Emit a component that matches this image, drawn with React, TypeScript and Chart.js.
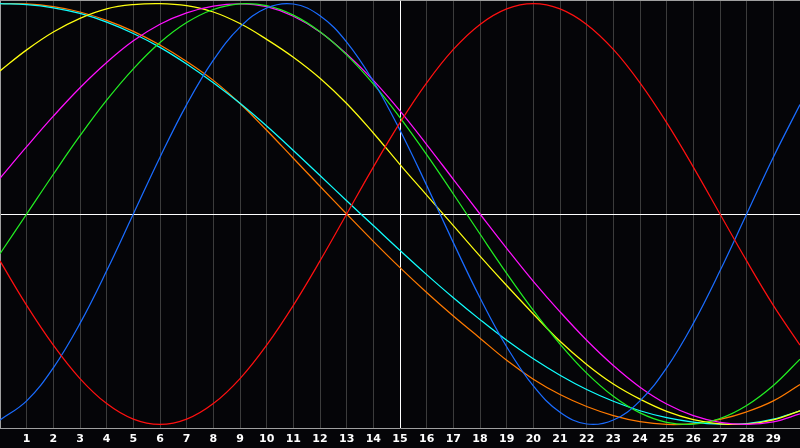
import React, { useEffect, useRef } from "react";
import { Chart, registerables } from "chart.js";

Chart.register(...registerables);

const days = [0, 1, 2, 3, 4, 5, 6, 7, 8, 9, 10, 11, 12, 13, 14, 15, 16, 17, 18, 19, 20, 21, 22, 23, 24, 25, 26, 27, 28, 29, 30];

const redSeries = [-22.3, -43.4, -62.3, -78.2, -90.1, -97.5, -100, -97.5, -90.1, -78.2, -62.3, -43.4, -22.3, 0, 22.3, 43.4, 62.3, 78.2, 90.1, 97.5, 100, 97.5, 90.1, 78.2, 62.3, 43.4, 22.3, 0, -22.3, -43.4, -62.3];
const blueSeries = [-97.9, -88.8, -73.1, -52.0, -27.0, 0, 27.0, 52.0, 73.1, 88.8, 97.9, 99.8, 94.2, 81.7, 63.1, 39.8, 13.6, -13.6, -39.8, -63.1, -81.7, -94.2, -99.8, -97.9, -88.8, -73.1, -52.0, -27.0, 0, 27.0, 52.0];
const greenSeries = [-18.9, 0, 18.9, 37.2, 54.1, 69.0, 81.5, 91.0, 97.2, 99.9, 99.0, 94.5, 86.6, 75.6, 61.8, 45.8, 28.2, 9.5, -9.5, -28.2, -45.8, -61.8, -75.6, -86.6, -94.5, -99.0, -99.9, -97.2, -91.0, -81.5, -69.0];
const magentaSeries = [17, 32, 46.5, 60, 72, 82.3, 90.2, 95.6, 98.8, 99.9, 98.5, 94, 86.5, 76, 63.5, 49, 33, 16.5, 0, -16.3, -32, -46.5, -60, -72, -82.3, -90.3, -95.8, -99, -100, -98.8, -95];
const yellowSeries = [68, 78, 86.5, 93, 97.5, 99.5, 100, 99, 96, 90.5, 83, 74.5, 64.5, 52.5, 38.5, 23.5, 9, -5.5, -20, -34, -47.5, -60.5, -71.5, -80.8, -88, -93.8, -97.7, -99.7, -99.8, -97.8, -93.5];
const cyanSeries = [100, 99.5, 98, 95.3, 91.2, 85.8, 79.2, 71.3, 62.4, 52.6, 41.8, 30.2, 18.3, 6.3, -5.5, -17.3, -28.8, -39.8, -50.2, -60, -68.8, -76.6, -83.4, -89, -93.5, -96.8, -98.9, -99.9, -99.6, -97.5, -93.5];
const orangeSeries = [100, 99.8, 98.5, 96, 92, 86.8, 80.3, 72.5, 63.5, 52.5, 39.8, 26.5, 13.2, 0, -13, -25.5, -37.3, -48.5, -59, -69.5, -78.5, -85.8, -91.5, -95.8, -98.7, -100, -99.6, -97.6, -94, -88.8, -81];

const seriesList = [
  { name: "red", values: redSeries, color: "#ff1010" },
  { name: "blue", values: blueSeries, color: "#1a6cff" },
  { name: "green", values: greenSeries, color: "#22ee22" },
  { name: "magenta", values: magentaSeries, color: "#ff10ff" },
  { name: "yellow", values: yellowSeries, color: "#ffff10" },
  { name: "cyan", values: cyanSeries, color: "#10ffff" },
  { name: "orange", values: orangeSeries, color: "#ff7a00" },
];

const xMin = 0;
const xMax = 30;
const yLimit = 101.7;
const markerDay = 15;

export default function App() {
  const canvasRef = useRef<HTMLCanvasElement | null>(null);

  useEffect(() => {
    if (!canvasRef.current) return;
    const chart = new Chart(canvasRef.current, {
      type: "line",
      data: {
        datasets: seriesList.map((s) => ({
          label: s.name,
          data: days.map((d, i) => ({ x: d, y: s.values[i] })),
          borderColor: s.color,
          borderWidth: 1.25,
          pointRadius: 0,
          pointHitRadius: 0,
          tension: 0.4,
          fill: false,
        })),
      },
      options: {
        animation: false,
        responsive: false,
        devicePixelRatio: 1,
        layout: { padding: 0, autoPadding: false },
        plugins: {
          legend: { display: false },
          tooltip: { enabled: false },
        },
        scales: {
          x: {
            type: "linear",
            min: xMin,
            max: xMax,
            afterFit: (scale: any) => {
              scale.height = 20;
              scale.paddingLeft = 0;
              scale.paddingRight = 0;
            },
            ticks: {
              stepSize: 1,
              autoSkip: false,
              maxRotation: 0,
              padding: 5,
              color: "#ffffff",
              font: { family: "DejaVu Sans", weight: "bold", size: 11, lineHeight: 1.2 },
              callback: (v: any) => (v >= 1 && v <= 29 ? String(v) : ""),
            },
            grid: {
              drawTicks: false,
              lineWidth: 1,
              color: (ctx: any) =>
                ctx.tick && ctx.tick.value === markerDay
                  ? "#ffffff"
                  : ctx.tick && ctx.tick.value === xMin
                  ? "#a0a0a0"
                  : "#3c3c3c",
            },
            border: { display: true, color: "#a0a0a0", width: 1 },
          },
          y: {
            min: -yLimit,
            max: yLimit,
            afterFit: (scale: any) => {
              scale.width = 0;
              scale.paddingTop = 0;
              scale.paddingBottom = 0;
            },
            ticks: { display: false, stepSize: 100 },
            grid: {
              drawTicks: false,
              lineWidth: 1,
              color: (ctx: any) =>
                ctx.tick && ctx.tick.value === 0
                  ? "#ffffff"
                  : ctx.tick && ctx.tick.value === yLimit
                  ? "#a0a0a0"
                  : "rgba(0,0,0,0)",
            },
            border: { display: true, color: "#a0a0a0", width: 1 },
          },
        },
      },
    });
    return () => chart.destroy();
  }, []);

  return (
    <div
      style={{
        position: "fixed",
        left: 0,
        top: 0,
        width: 800,
        height: 448,
        background: "#050508",
      }}
    >
      <canvas ref={canvasRef} width={800} height={448} style={{ display: "block" }} />
    </div>
  );
}
